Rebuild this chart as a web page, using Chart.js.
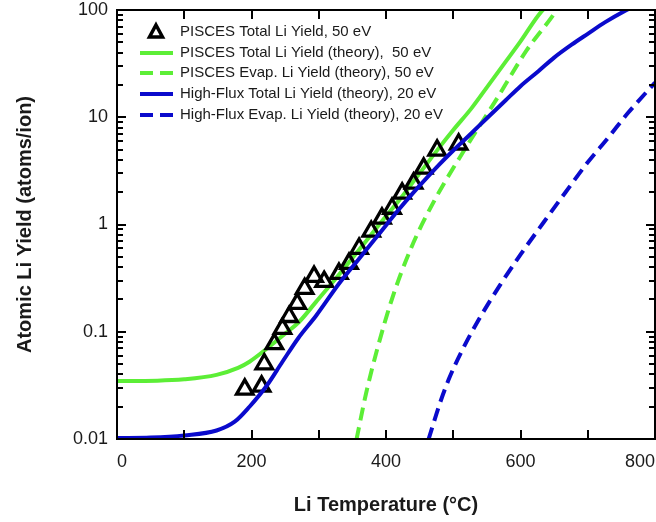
<!DOCTYPE html>
<html>
<head>
<meta charset="utf-8">
<script src="https://cdn.jsdelivr.net/npm/chart.js@4.4.1/dist/chart.umd.min.js"></script>
<style>
  html, body { margin: 0; padding: 0; background: #fff; }
  #chart { display: block; }
</style>
</head>
<body>
<canvas id="chart" width="656" height="522"></canvas>
<script>
// Measured points (PISCES, 50 eV)
const dataTemp  = [190, 215, 219, 234, 246, 256, 268, 279, 293, 308, 330, 345, 360, 378, 394, 409, 424, 441, 456, 476, 508];
const dataYield = [0.029, 0.031, 0.050, 0.077, 0.107, 0.138, 0.183, 0.252, 0.327, 0.293, 0.348, 0.432, 0.597, 0.861, 1.14, 1.41, 1.95, 2.42, 3.34, 4.92, 5.6];

// PISCES total (theory), 50 eV
const piscesTotalTemp  = [0, 60, 100, 148, 180, 197, 222, 250, 271, 296, 330, 360, 390, 420, 450, 478, 500, 527, 550, 578, 600, 627, 645];
const piscesTotalYield = [0.0348, 0.035, 0.036, 0.0396, 0.046, 0.0525, 0.069, 0.096, 0.124, 0.19, 0.34, 0.58, 1.0, 1.7, 3.0, 5.1, 7.6, 12.1, 19, 33, 51, 90, 120];

// PISCES evaporation (theory), 50 eV
const piscesEvapTemp  = [356, 370, 387, 409, 437, 473, 517, 564, 609, 653, 665];
const piscesEvapYield = [0.0098, 0.026, 0.069, 0.203, 0.597, 1.72, 5.0, 14.6, 42, 98, 130];

// High-flux total (theory), 20 eV
const hfTotalTemp  = [0, 50, 100, 148, 175, 197, 222, 246, 270, 296, 330, 360, 390, 420, 450, 478, 500, 527, 550, 578, 600, 627, 650, 676, 700, 726, 755, 775];
const hfTotalYield = [0.0102, 0.0103, 0.0108, 0.012, 0.0145, 0.02, 0.031, 0.0525, 0.088, 0.141, 0.28, 0.48, 0.82, 1.4, 2.3, 3.56, 4.9, 7.1, 9.8, 14.4, 19.5, 27, 36, 47.5, 60, 77, 98, 113];

// High-flux evaporation (theory), 20 eV
const hfEvapTemp  = [463, 480, 493, 515, 538, 570, 601, 635, 667, 700, 730, 760, 800];
const hfEvapYield = [0.0098, 0.0214, 0.0356, 0.0706, 0.13, 0.275, 0.535, 1.06, 2.0, 3.8, 6.4, 11, 21];

const xTicks = [0, 100, 200, 300, 400, 500, 600, 700, 800];

const GREEN = '#5cee36';
const BLUE = '#0a0acc';
const FONT = '"Liberation Sans", Arial, Helvetica, sans-serif';

function pts(xs, ys) {
    return xs.map((x, i) => ({ x: x, y: ys[i] }));
}

const legendRows = [
    { label: 'PISCES Total Li Yield, 50 eV', kind: 'marker' },
    { label: 'PISCES Total Li Yield (theory),  50 eV', kind: 'line', color: GREEN, dash: [] },
    { label: 'PISCES Evap. Li Yield (theory), 50 eV', kind: 'line', color: GREEN, dash: [13, 7] },
    { label: 'High-Flux Total Li Yield (theory), 20 eV', kind: 'line', color: BLUE, dash: [] },
    { label: 'High-Flux Evap. Li Yield (theory), 20 eV', kind: 'line', color: BLUE, dash: [13, 7] }
];

// frame, inner ticks on all four sides, and the legend
const framePlugin = {
    id: 'frame',
    afterDraw(chart) {
        const { ctx, chartArea: a, scales } = chart;
        const xs = scales.x, ys = scales.y;
        ctx.save();
        ctx.strokeStyle = '#000';
        ctx.lineWidth = 2;
        ctx.beginPath();
        xTicks.forEach(v => {
            const px = Math.round(xs.getPixelForValue(v));
            ctx.moveTo(px, a.bottom); ctx.lineTo(px, a.bottom - 9);
            ctx.moveTo(px, a.top); ctx.lineTo(px, a.top + 9);
        });
        for (let e = -2; e < 2; e++) {
            for (let m = 1; m <= 10; m++) {
                const v = m * Math.pow(10, e);
                const py = Math.round(ys.getPixelForValue(v));
                const len = (m === 1 || m === 10) ? 9 : 6;
                ctx.moveTo(a.left, py); ctx.lineTo(a.left + len, py);
                ctx.moveTo(a.right, py); ctx.lineTo(a.right - len, py);
            }
        }
        ctx.stroke();
        ctx.strokeRect(a.left, a.top, a.right - a.left, a.bottom - a.top);

        // legend
        ctx.font = '15px ' + FONT;
        ctx.textBaseline = 'middle';
        ctx.fillStyle = '#1a1a1a';
        const rowY = [32, 53, 73, 94, 115];
        legendRows.forEach((r, i) => {
            const y = rowY[i];
            if (r.kind === 'marker') {
                ctx.beginPath();
                ctx.lineWidth = 3.5;
                ctx.lineJoin = 'miter';
                ctx.strokeStyle = '#000';
                ctx.moveTo(156, y - 7);
                ctx.lineTo(162.5, y + 5);
                ctx.lineTo(149.5, y + 5);
                ctx.closePath();
                ctx.stroke();
            } else {
                ctx.beginPath();
                ctx.lineWidth = 4;
                ctx.strokeStyle = r.color;
                ctx.setLineDash(r.dash);
                ctx.moveTo(140, y);
                ctx.lineTo(173, y);
                ctx.stroke();
                ctx.setLineDash([]);
            }
            ctx.fillText(r.label, 180, y);
        });
        ctx.restore();
    }
};

const lineStyle = {
    showLine: true,
    pointRadius: 0,
    borderWidth: 4,
    fill: false,
    cubicInterpolationMode: 'monotone'
};

new Chart(document.getElementById('chart'), {
    type: 'scatter',
    data: {
        datasets: [
            Object.assign({
                label: 'High-Flux Total Li Yield (theory), 20 eV',
                data: pts(hfTotalTemp, hfTotalYield),
                borderColor: BLUE,
                order: 0
            }, lineStyle),
            {
                label: 'PISCES Total Li Yield, 50 eV',
                data: pts(dataTemp, dataYield),
                showLine: false,
                pointStyle: 'triangle',
                pointRadius: 9.5,
                pointBorderWidth: 3.3,
                pointBorderColor: '#000',
                pointBackgroundColor: 'rgba(255,255,255,0)',
                order: 1
            },
            Object.assign({
                label: 'PISCES Total Li Yield (theory), 50 eV',
                data: pts(piscesTotalTemp, piscesTotalYield),
                borderColor: GREEN,
                order: 2
            }, lineStyle),
            Object.assign({
                label: 'PISCES Evap. Li Yield (theory), 50 eV',
                data: pts(piscesEvapTemp, piscesEvapYield),
                borderColor: GREEN,
                borderDash: [13, 7],
                order: 3
            }, lineStyle),
            Object.assign({
                label: 'High-Flux Evap. Li Yield (theory), 20 eV',
                data: pts(hfEvapTemp, hfEvapYield),
                borderColor: BLUE,
                borderDash: [13, 7],
                order: 4
            }, lineStyle)
        ]
    },
    options: {
        responsive: false,
        animation: false,
        devicePixelRatio: 1,
        layout: { autoPadding: false, padding: { top: 10, right: 1, left: 0, bottom: 0 } },
        plugins: {
            legend: { display: false },
            tooltip: { enabled: false }
        },
        scales: {
            x: {
                type: 'linear',
                min: 0,
                max: 800,
                grid: { display: false, drawTicks: false },
                border: { display: false },
                ticks: {
                    stepSize: 200,
                    align: 'inner',
                    padding: 12,
                    color: '#1a1a1a',
                    font: { family: FONT, size: 18 }
                },
                title: {
                    display: true,
                    text: 'Li Temperature (°C)',
                    color: '#1a1a1a',
                    font: { family: FONT, size: 20, weight: 'bold' },
                    padding: { top: 0, bottom: 5 }
                },
                afterFit(s) {
                    s.height = 83;
                    s.paddingLeft = 0;
                    s.paddingRight = 0;
                }
            },
            y: {
                type: 'logarithmic',
                min: 0.01,
                max: 100,
                grid: { display: false, drawTicks: false },
                border: { display: false },
                ticks: {
                    autoSkip: false,
                    padding: 9,
                    color: '#1a1a1a',
                    font: { family: FONT, size: 18 },
                    callback(v) {
                        const l = Math.log10(v);
                        return Math.abs(l - Math.round(l)) < 1e-6 ? String(v) : '';
                    }
                },
                title: {
                    display: true,
                    text: 'Atomic Li Yield (atoms/ion)',
                    color: '#1a1a1a',
                    font: { family: FONT, size: 20, weight: 'bold' },
                    padding: { top: 13, bottom: 0 }
                },
                afterFit(s) {
                    s.width = 117;
                    s.paddingTop = 0;
                    s.paddingBottom = 0;
                }
            }
        }
    },
    plugins: [framePlugin]
});
</script>
</body>
</html>
